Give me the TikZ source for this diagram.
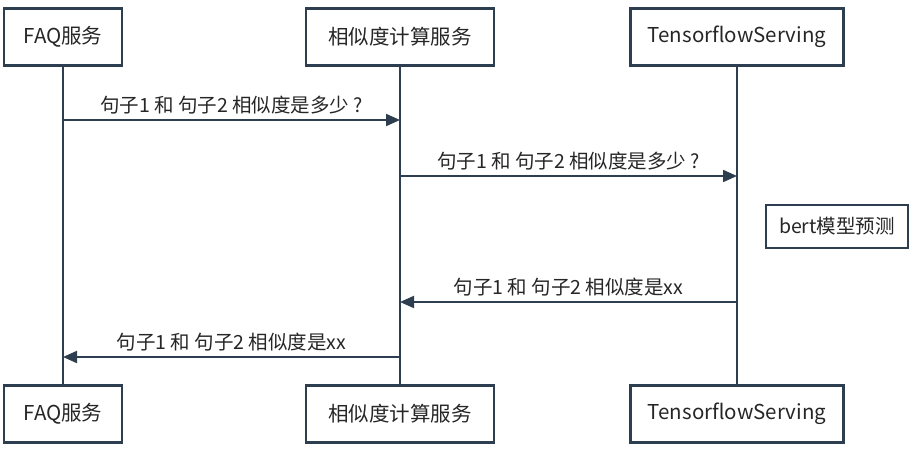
\documentclass[tikz,border=0pt]{standalone}
\usepackage{fontspec}
\setmainfont{Noto Sans CJK SC}
\usetikzlibrary{arrows.meta}
\definecolor{ln}{HTML}{2C3E50}
\begin{document}
\begin{tikzpicture}[x=1pt,y=-1pt,
  box/.style={draw=ln,line width=2.6pt,minimum height=57pt,inner xsep=12pt,font=\fontsize{20.5}{24}\selectfont,text=black!85},
  life/.style={draw=ln,line width=2.6pt},
  msg/.style={draw=ln,line width=2pt,-{Triangle[length=14pt,width=12pt]}},
  lab/.style={font=\fontsize{19.5}{23}\selectfont,text=black!85,above=2pt}]
\useasboundingbox (0,0) rectangle (913,450);
\node[box,minimum width=118pt] (f1) at (63,37) {FAQ服务};
\node[box,minimum width=188pt] (s1) at (400,37) {相似度计算服务};
\node[box,minimum width=213pt] (t1) at (737,37) {TensorflowServing};
\node[box,minimum width=118pt] (f2) at (63,414) {FAQ服务};
\node[box,minimum width=188pt] (s2) at (400,414) {相似度计算服务};
\node[box,minimum width=213pt] (t2) at (737,414) {TensorflowServing};
\draw[life] (f1) -- (f2);
\draw[life] (s1) -- (s2);
\draw[life] (t1) -- (t2);
\node[draw=ln,line width=2pt,minimum height=43pt,minimum width=142pt,inner xsep=4pt,font=\fontsize{19.5}{23}\selectfont,text=black!85] (b) at (837,226) {bert模型预测};
\coordinate (a1) at (63,120); \coordinate (a2) at (400,120);
\coordinate (b1) at (400,176); \coordinate (b2) at (737,176);
\coordinate (c1) at (737,302); \coordinate (c2) at (400,302);
\coordinate (d1) at (400,357); \coordinate (d2) at (63,357);
\draw[msg] (a1) -- node[lab]{句子1 和 句子2 相似度是多少 ?} (a2);
\draw[msg] (b1) -- node[lab]{句子1 和 句子2 相似度是多少 ?} (b2);
\draw[msg] (c1) -- node[lab]{句子1 和 句子2 相似度是xx} (c2);
\draw[msg] (d1) -- node[lab]{句子1 和 句子2 相似度是xx} (d2);
\end{tikzpicture}
\end{document}
